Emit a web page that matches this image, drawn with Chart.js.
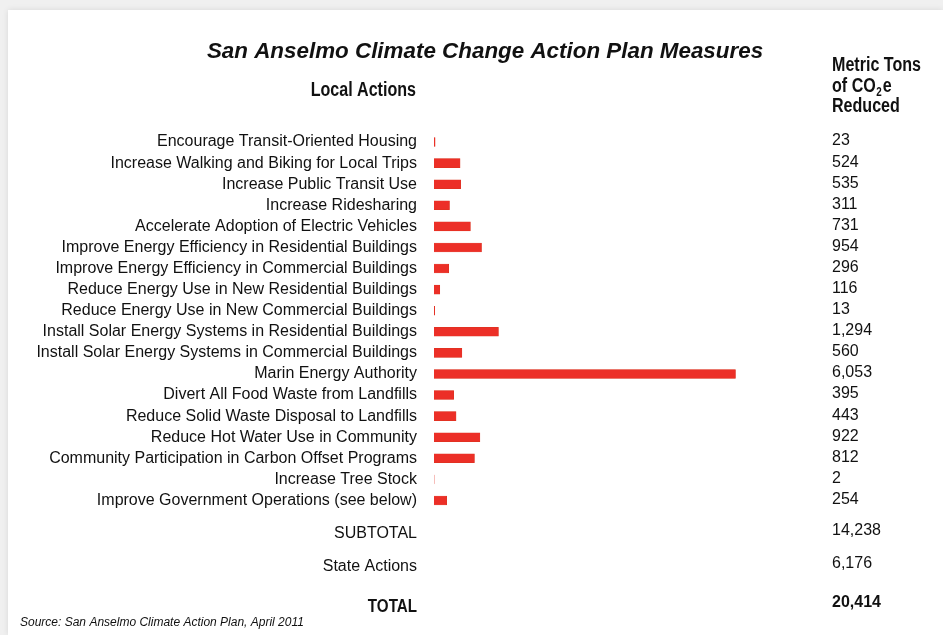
<!DOCTYPE html>
<html>
<head>
<meta charset="utf-8">
<script src="https://cdn.jsdelivr.net/npm/chart.js@4.4.1/dist/chart.umd.min.js"></script>
<style>
  html, body { margin: 0; padding: 0; background: #f0f0f0; }
  #card { position: absolute; left: 8px; top: 10px; width: 935px; height: 625px; background: #fff; box-shadow: 0 0 6px rgba(0,0,0,0.10); }
  #wrap { position: absolute; left: 0; top: 0; width: 943px; height: 635px; }
</style>
</head>
<body>
<div id="card"></div>
<div id="wrap"><canvas id="chart"></canvas></div>
<script>
const categories = [
  'Encourage Transit-Oriented Housing',
  'Increase Walking and Biking for Local Trips',
  'Increase Public Transit Use',
  'Increase Ridesharing',
  'Accelerate Adoption of Electric Vehicles',
  'Improve Energy Efficiency in Residential Buildings',
  'Improve Energy Efficiency in Commercial Buildings',
  'Reduce Energy Use in New Residential Buildings',
  'Reduce Energy Use in New Commercial Buildings',
  'Install Solar Energy Systems in Residential Buildings',
  'Install Solar Energy Systems in Commercial Buildings',
  'Marin Energy Authority',
  'Divert All Food Waste from Landfills',
  'Reduce Solid Waste Disposal to Landfills',
  'Reduce Hot Water Use in Community',
  'Community Participation in Carbon Offset Programs',
  'Increase Tree Stock',
  'Improve Government Operations (see below)'
];
const tonsReduced = [23, 524, 535, 311, 731, 954, 296, 116, 13, 1294, 560, 6053, 395, 443, 922, 812, 2, 254];
const summaryLabels = ['SUBTOTAL', 'State Actions', 'TOTAL'];
const summaryValues = [14238, 6176, 20414];

const TEXT = '#111';
const LABEL_FONT = '"Liberation Sans", Arial, sans-serif';
const fmt = v => v.toLocaleString('en-US');

// bold text squeezed horizontally to mimic a condensed face
function condensed(ctx, text, x, y, size, align) {
  ctx.save();
  ctx.font = 'bold ' + size + 'px ' + LABEL_FONT;
  ctx.textBaseline = 'middle';
  const sx = 0.82;
  const w = ctx.measureText(text).width * sx;
  let left = x;
  if (align === 'right') left = x - w;
  else if (align === 'center') left = x - w / 2;
  ctx.translate(left, y);
  ctx.scale(sx, 1);
  ctx.textAlign = 'left';
  ctx.fillText(text, 0, 0);
  ctx.restore();
  return w;
}

const textPlugin = {
  id: 'textPlugin',
  afterDraw(chart) {
    const ctx = chart.ctx;
    const area = chart.chartArea;
    const valueX = 832;
    ctx.save();
    ctx.fillStyle = TEXT;

    // title
    ctx.font = 'italic bold 22.4px ' + LABEL_FONT;
    ctx.textAlign = 'center';
    ctx.textBaseline = 'middle';
    ctx.fillText('San Anselmo Climate Change Action Plan Measures', 485, 52);

    // column headers
    condensed(ctx, 'Local Actions', 416, 91, 19.6, 'right');
    condensed(ctx, 'Metric Tons', valueX, 66, 19.6, 'left');
    let w = condensed(ctx, 'of CO', valueX, 87, 19.6, 'left');
    ctx.save();
    ctx.font = 'bold 12px ' + LABEL_FONT;
    ctx.translate(valueX + w + 0.5, 93);
    ctx.scale(0.82, 1);
    ctx.textAlign = 'left';
    ctx.fillText('2', 0, 0);
    ctx.restore();
    condensed(ctx, 'e', valueX + w + 7, 87, 19.6, 'left');
    condensed(ctx, 'Reduced', valueX, 107, 19.6, 'left');

    // value column
    ctx.font = '16px ' + LABEL_FONT;
    ctx.textAlign = 'left';
    ctx.textBaseline = 'middle';
    const meta = chart.getDatasetMeta(0);
    meta.data.forEach((bar, i) => {
      ctx.fillText(fmt(tonsReduced[i]), valueX, bar.y - 1);
    });

    // summary rows
    const rowOffsets = [23, 56, 96];
    summaryLabels.forEach((label, i) => {
      const y = area.bottom + rowOffsets[i];
      if (i === summaryLabels.length - 1) {
        condensed(ctx, label, 417, y, 18.5, 'right');
        ctx.font = 'bold 16px ' + LABEL_FONT;
        ctx.textAlign = 'left';
        ctx.fillText(fmt(summaryValues[i]), valueX, y - 4);
      } else {
        ctx.font = '16px ' + LABEL_FONT;
        ctx.textAlign = 'right';
        ctx.fillText(label, 417, y);
        ctx.textAlign = 'left';
        ctx.fillText(fmt(summaryValues[i]), valueX, y - 3);
      }
    });

    // source
    ctx.font = 'italic 12px ' + LABEL_FONT;
    ctx.textAlign = 'left';
    ctx.fillText('Source: San Anselmo Climate Action Plan, April 2011', 20, 623);
    ctx.restore();
  }
};

new Chart(document.getElementById('chart'), {
  type: 'bar',
  data: {
    labels: categories,
    datasets: [{
      data: tonsReduced,
      backgroundColor: '#ec2f27',
      borderColor: '#d9341f',
      borderWidth: 0.5,
      barThickness: 9
    }]
  },
  options: {
    indexAxis: 'y',
    responsive: true,
    maintainAspectRatio: false,
    animation: false,
    layout: { padding: { top: 131.5, bottom: 124, left: 0, right: 123 } },
    scales: {
      x: { display: false, min: 0, max: 7750 },
      y: {
        afterFit(scale) { scale.width = 434; },
        grid: { display: false, drawTicks: false },
        border: { display: false },
        ticks: {
          autoSkip: false,
          padding: 17,
          color: TEXT,
          font: { family: LABEL_FONT, size: 16 }
        }
      }
    },
    plugins: {
      legend: { display: false },
      tooltip: { enabled: false }
    }
  },
  plugins: [textPlugin]
});
</script>
</body>
</html>
